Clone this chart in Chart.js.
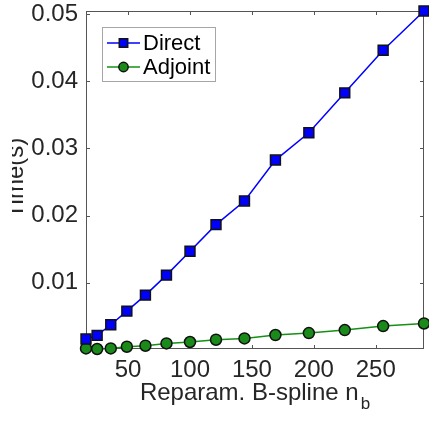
<!DOCTYPE html>
<html lang="en">
<head>
  <meta charset="UTF-8">
  <title>Time vs reparam. B-spline n_b</title>
  <script src="https://cdn.jsdelivr.net/npm/chart.js"></script>
  <style>
    body {
      margin: 0;
      background: #fff;
    }
    canvas {
      display: block;
    }
  </style>
</head>
<body>
  <canvas id="timeChart" width="429" height="423"></canvas>

  <script>
    // n_b values (squares 4^2 .. 17^2)
    const nb = [16, 25, 36, 49, 64, 81, 100, 121, 144, 169, 196, 225, 256, 289];
    const directTime = [0.00163, 0.00217, 0.00376, 0.00579, 0.00817, 0.01114, 0.01470,
                        0.01865, 0.02217, 0.02826, 0.03232, 0.03826, 0.04460, 0.05044];
    const adjointTime = [0.00024, 0.00015, 0.00024, 0.00049, 0.00064, 0.00098, 0.00119,
                         0.00153, 0.00172, 0.00223, 0.00252, 0.00297, 0.00356, 0.00395];
    const xTickStep = 50;
    const yTickStep = 0.01;

    const textColor = '#262626';
    const axisColor = '#555555';
    Chart.defaults.font.family = "'Liberation Sans', Arial, sans-serif";

    const toPoints = (ys) => nb.map((x, i) => ({ x: x, y: ys[i] }));

    const axesBox = {
      id: 'axesBox',
      beforeDatasetsDraw(chart) {
        const { ctx, chartArea: a, scales } = chart;
        ctx.save();
        ctx.strokeStyle = axisColor;
        ctx.lineWidth = 1;
        ctx.strokeRect(a.left + 0.5, a.top + 0.5, a.right - a.left - 1, a.bottom - a.top - 1);
        ctx.beginPath();
        scales.x.ticks.forEach(t => {
          const px = Math.round(scales.x.getPixelForValue(t.value)) + 0.5;
          ctx.moveTo(px, a.bottom); ctx.lineTo(px, a.bottom - 4);
          ctx.moveTo(px, a.top); ctx.lineTo(px, a.top + 4);
        });
        scales.y.ticks.forEach(t => {
          const py = Math.round(scales.y.getPixelForValue(t.value)) + 0.5;
          ctx.moveTo(a.left, py); ctx.lineTo(a.left + 4, py);
          ctx.moveTo(a.right, py); ctx.lineTo(a.right - 4, py);
        });
        ctx.stroke();
        ctx.restore();
      },
      afterDraw(chart) {
        const { ctx, chartArea: a } = chart;
        ctx.save();

        // legend box
        const lx = a.left + 16, ly = a.top + 16, lw = 113, lh = 54;
        ctx.fillStyle = '#fff';
        ctx.fillRect(lx, ly, lw, lh);
        ctx.strokeStyle = '#a6a6a6';
        ctx.lineWidth = 1;
        ctx.strokeRect(lx + 0.5, ly + 0.5, lw, lh);
        chart.data.datasets.forEach((ds, i) => {
          const cy = ly + 16 + i * 24;
          ctx.strokeStyle = ds.borderColor;
          ctx.lineWidth = ds.borderWidth;
          ctx.beginPath();
          ctx.moveTo(lx + 5, cy);
          ctx.lineTo(lx + 38, cy);
          ctx.stroke();
          ctx.fillStyle = ds.pointBackgroundColor;
          ctx.strokeStyle = ds.pointBorderColor;
          ctx.lineWidth = ds.pointBorderWidth;
          Chart.helpers.drawPoint(ctx, {
            pointStyle: ds.pointStyle,
            radius: ds.pointRadius * 0.85,
            borderWidth: ds.pointBorderWidth
          }, lx + 21.5, cy);
          ctx.fillStyle = '#000';
          ctx.font = "22px 'Liberation Sans', Arial, sans-serif";
          ctx.textBaseline = 'middle';
          ctx.textAlign = 'left';
          ctx.fillText(ds.label, lx + 41, cy + 1);
        });

        // x axis title with subscript
        ctx.fillStyle = textColor;
        ctx.textBaseline = 'alphabetic';
        const mainFont = "24px 'Liberation Sans', Arial, sans-serif";
        const subFont = "17px 'Liberation Sans', Arial, sans-serif";
        const mainText = 'Reparam. B-spline n';
        ctx.font = mainFont;
        const mw = ctx.measureText(mainText).width;
        ctx.font = subFont;
        const sw = ctx.measureText('b').width;
        const tx = (a.left + a.right) / 2 - (mw + sw + 2) / 2;
        ctx.font = mainFont;
        ctx.fillText(mainText, tx, 400);
        ctx.font = subFont;
        ctx.fillText('b', tx + mw + 2, 409);

        // y axis title, partly cut off at the left like the original
        ctx.beginPath();
        ctx.rect(12, 0, 40, chart.height);
        ctx.clip();
        ctx.translate(23, (a.top + a.bottom) / 2 - 2);
        ctx.rotate(-Math.PI / 2);
        ctx.font = mainFont;
        ctx.textAlign = 'center';
        ctx.fillText('Time(s)', 0, 0);
        ctx.restore();
      }
    };

    new Chart(document.getElementById('timeChart').getContext('2d'), {
      type: 'line',
      data: {
        datasets: [{
          label: 'Direct',
          data: toPoints(directTime),
          borderColor: '#0000ff',
          borderWidth: 1.5,
          pointStyle: 'rect',
          pointRadius: 7,
          pointBackgroundColor: '#0000ff',
          pointBorderColor: '#111111',
          pointBorderWidth: 1.5,
          tension: 0,
          clip: false
        }, {
          label: 'Adjoint',
          data: toPoints(adjointTime),
          borderColor: '#159015',
          borderWidth: 1.5,
          pointStyle: 'circle',
          pointRadius: 5.5,
          pointBackgroundColor: '#1a8a1a',
          pointBorderColor: '#111111',
          pointBorderWidth: 1.5,
          tension: 0,
          clip: false
        }]
      },
      options: {
        responsive: false,
        animation: false,
        devicePixelRatio: 1,
        layout: {
          autoPadding: false,
          padding: { top: 11, right: 5, left: 0, bottom: 0 }
        },
        plugins: {
          legend: { display: false },
          tooltip: { enabled: false }
        },
        scales: {
          x: {
            type: 'linear',
            min: 16,
            max: 289,
            grid: { display: false, drawTicks: false },
            border: { display: false },
            ticks: {
              stepSize: xTickStep,
              includeBounds: false,
              autoSkip: false,
              maxRotation: 0,
              padding: 7,
              color: textColor,
              font: { size: 24 },
              callback: v => v
            },
            afterFit(s) {
              s.height = 74;
              s.paddingLeft = 0;
              s.paddingRight = 0;
            }
          },
          y: {
            min: 0.00015,
            max: 0.05044,
            grid: { display: false, drawTicks: false },
            border: { display: false },
            ticks: {
              stepSize: yTickStep,
              includeBounds: false,
              padding: 8,
              color: textColor,
              font: { size: 24 },
              callback: v => v.toFixed(2)
            },
            afterFit(s) {
              s.width = 86;
              s.paddingTop = 0;
              s.paddingBottom = 0;
            }
          }
        }
      },
      plugins: [axesBox]
    });
  </script>
</body>
</html>
